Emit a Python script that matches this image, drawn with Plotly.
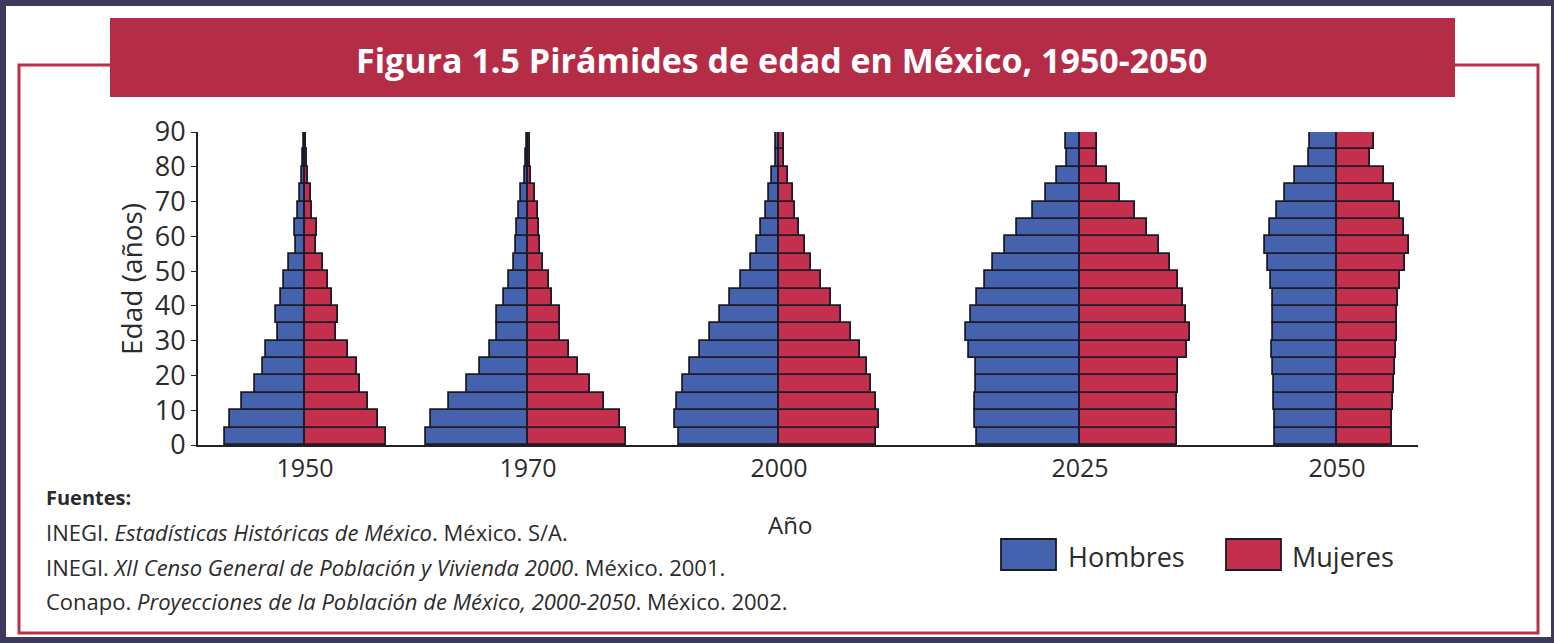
import plotly.graph_objects as go

# Grupos de edad (quinquenales) y años de cada pirámide
edades = [2.5, 7.5, 12.5, 17.5, 22.5, 27.5, 32.5, 37.5, 42.5, 47.5,
          52.5, 57.5, 62.5, 67.5, 72.5, 77.5, 82.5, 87.5]
anios = ['1950', '1970', '2000', '2025', '2050']

# Ancho de cada barra (unidades relativas), de 0-4 años hasta 85+
hombres_1950 = [8.0, 7.5, 6.3, 5.0, 4.2, 3.9, 2.7, 2.9, 2.4, 2.1, 1.6, 0.9, 1.0, 0.7, 0.5, 0.3, 0.2, 0.1]
mujeres_1950 = [8.1, 7.3, 6.3, 5.5, 5.2, 4.3, 3.1, 3.3, 2.7, 2.3, 1.8, 1.1, 1.2, 0.7, 0.6, 0.3, 0.2, 0.1]
hombres_1970 = [10.2, 9.7, 7.9, 6.1, 4.8, 3.8, 3.1, 3.1, 2.4, 1.9, 1.4, 1.2, 1.1, 0.9, 0.7, 0.3, 0.2, 0.15]
mujeres_1970 = [9.8, 9.2, 7.6, 6.2, 5.0, 4.1, 3.2, 3.2, 2.4, 2.1, 1.5, 1.2, 1.1, 1.0, 0.7, 0.3, 0.2, 0.15]
hombres_2000 = [10.0, 10.4, 10.2, 9.6, 8.9, 7.9, 6.9, 5.9, 4.9, 3.8, 2.8, 2.2, 1.8, 1.3, 1.0, 0.7, 0.3, 0.3]
mujeres_2000 = [9.7, 10.0, 9.7, 9.2, 8.8, 8.1, 7.2, 6.2, 5.2, 4.2, 3.2, 2.6, 2.0, 1.6, 1.4, 0.9, 0.5, 0.5]
hombres_2025 = [10.3, 10.5, 10.5, 10.4, 10.4, 11.1, 11.4, 10.9, 10.3, 9.5, 8.7, 7.5, 6.3, 4.7, 3.4, 2.3, 1.3, 1.4]
mujeres_2025 = [9.7, 9.7, 9.7, 9.8, 9.8, 10.7, 11.0, 10.6, 10.3, 9.8, 9.0, 7.9, 6.7, 5.5, 4.0, 2.7, 1.7, 1.7]
hombres_2050 = [6.2, 6.2, 6.3, 6.3, 6.4, 6.5, 6.4, 6.4, 6.4, 6.6, 6.9, 7.2, 6.7, 6.0, 5.2, 4.2, 2.8, 2.7]
mujeres_2050 = [5.5, 5.5, 5.6, 5.7, 5.8, 5.9, 6.0, 6.0, 6.1, 6.3, 6.8, 7.2, 6.7, 6.3, 5.7, 4.7, 3.3, 3.7]

hombres = [hombres_1950, hombres_1970, hombres_2000, hombres_2025, hombres_2050]
mujeres = [mujeres_1950, mujeres_1970, mujeres_2000, mujeres_2025, mujeres_2050]

# Posición horizontal del eje central de cada pirámide (layout)
centros = [10.7, 33.0, 58.1, 88.2, 113.9]

AZUL = '#4462ae'
ROJO = '#c42f4d'
BORDE = '#1c1a26'
TEXTO = '#2b2b2b'
FUENTE = 'Open Sans'

# Area del gráfico en pixeles
W, H = 1554, 643
PL, PR, PT, PB = 198, 1418, 132, 445


def px(x):
    return (x - PL) / (PR - PL)


def py(y):
    return (PB - y) / (PB - PT)


fig = go.Figure()

for i, anio in enumerate(anios):
    fig.add_trace(go.Bar(
        y=edades,
        x=[-v for v in hombres[i]],
        base=centros[i],
        width=5,
        orientation='h',
        name='Hombres',
        marker=dict(color=AZUL, line=dict(color=BORDE, width=1.8)),
        showlegend=False,
        hovertemplate=anio + ' Hombres<br>Edad %{y}<extra></extra>'
    ))
    fig.add_trace(go.Bar(
        y=edades,
        x=mujeres[i],
        base=centros[i],
        width=5,
        orientation='h',
        name='Mujeres',
        marker=dict(color=ROJO, line=dict(color=BORDE, width=1.8)),
        showlegend=False,
        hovertemplate=anio + ' Mujeres<br>Edad %{y}<extra></extra>'
    ))

shapes = [
    # fondo blanco dentro del marco oscuro
    dict(type='rect', xref='paper', yref='paper', layer='below',
         x0=px(6), x1=px(1551), y0=py(637), y1=py(6),
         fillcolor='white', line=dict(width=0)),
    # marco rojo
    dict(type='rect', xref='paper', yref='paper', layer='below',
         x0=px(19), x1=px(1538), y0=py(633), y1=py(65),
         fillcolor='rgba(0,0,0,0)', line=dict(color='#b8304a', width=3)),
    # franja del título
    dict(type='rect', xref='paper', yref='paper', layer='below',
         x0=px(110), x1=px(1455), y0=py(97), y1=py(18),
         fillcolor='#b52c47', line=dict(width=0)),
    # leyenda
    dict(type='rect', xref='paper', yref='paper',
         x0=px(1001), x1=px(1056), y0=py(570), y1=py(539),
         fillcolor=AZUL, line=dict(color=BORDE, width=1.8)),
    dict(type='rect', xref='paper', yref='paper',
         x0=px(1226), x1=px(1281), y0=py(570), y1=py(539),
         fillcolor=ROJO, line=dict(color=BORDE, width=1.8)),
]

annotations = [
    dict(text='<b>Figura 1.5 Pirámides de edad en México, 1950-2050</b>',
         x=px(782), y=py(60), xref='paper', yref='paper', showarrow=False,
         xanchor='center', yanchor='middle',
         font=dict(family=FUENTE, size=34, color='white')),
    dict(text='Edad (años)', x=px(131), y=py(279), xref='paper', yref='paper',
         showarrow=False, xanchor='center', yanchor='middle', textangle=-90,
         font=dict(family=FUENTE, size=28, color=TEXTO)),
    dict(text='Año', x=px(790), y=py(524), xref='paper', yref='paper',
         showarrow=False, xanchor='center', yanchor='middle',
         font=dict(family=FUENTE, size=24, color=TEXTO)),
    dict(text='<b>Fuentes:</b>', x=px(44), y=py(497), xref='paper', yref='paper',
         showarrow=False, xanchor='left', yanchor='middle',
         font=dict(family=FUENTE, size=20, color=TEXTO)),
    dict(text='INEGI. <i>Estadísticas Históricas de México</i>. México. S/A.',
         x=px(44), y=py(532), xref='paper', yref='paper',
         showarrow=False, xanchor='left', yanchor='middle',
         font=dict(family=FUENTE, size=22, color=TEXTO)),
    dict(text='INEGI. <i>XII Censo General de Población y Vivienda 2000</i>. México. 2001.',
         x=px(44), y=py(567), xref='paper', yref='paper',
         showarrow=False, xanchor='left', yanchor='middle',
         font=dict(family=FUENTE, size=22, color=TEXTO)),
    dict(text='Conapo. <i>Proyecciones de la Población de México, 2000-2050</i>. México. 2002.',
         x=px(44), y=py(601), xref='paper', yref='paper',
         showarrow=False, xanchor='left', yanchor='middle',
         font=dict(family=FUENTE, size=22, color=TEXTO)),
    dict(text='Hombres', x=px(1066), y=py(556), xref='paper', yref='paper',
         showarrow=False, xanchor='left', yanchor='middle',
         font=dict(family=FUENTE, size=27, color=TEXTO)),
    dict(text='Mujeres', x=px(1290), y=py(556), xref='paper', yref='paper',
         showarrow=False, xanchor='left', yanchor='middle',
         font=dict(family=FUENTE, size=27, color=TEXTO)),
]

fig.update_layout(
    width=W, height=H,
    margin=dict(l=PL, r=W - PR, t=PT, b=H - PB, pad=0),
    paper_bgcolor='#3e3a5c',
    plot_bgcolor='rgba(0,0,0,0)',
    barmode='overlay',
    bargap=0,
    shapes=shapes,
    annotations=annotations,
    font=dict(family=FUENTE, color=TEXTO),
    xaxis=dict(
        range=[0, (PR - PL) / 10],
        tickmode='array', tickvals=centros, ticktext=anios,
        ticks='', showgrid=False, zeroline=False,
        showline=True, linecolor='#222', linewidth=2,
        tickfont=dict(family=FUENTE, size=25, color=TEXTO),
        fixedrange=True,
    ),
    yaxis=dict(
        range=[0, 90],
        tickmode='array', tickvals=list(range(0, 91, 10)),
        ticks='outside', ticklen=5, tickcolor='#222',
        showgrid=False, zeroline=False,
        showline=True, linecolor='#222', linewidth=2,
        tickfont=dict(family=FUENTE, size=27, color=TEXTO),
        fixedrange=True,
    ),
)

fig.write_html('out.html',
               config={'displayModeBar': False},
               post_script="document.body.style.margin='0';"
                           "document.body.style.overflow='hidden';")
